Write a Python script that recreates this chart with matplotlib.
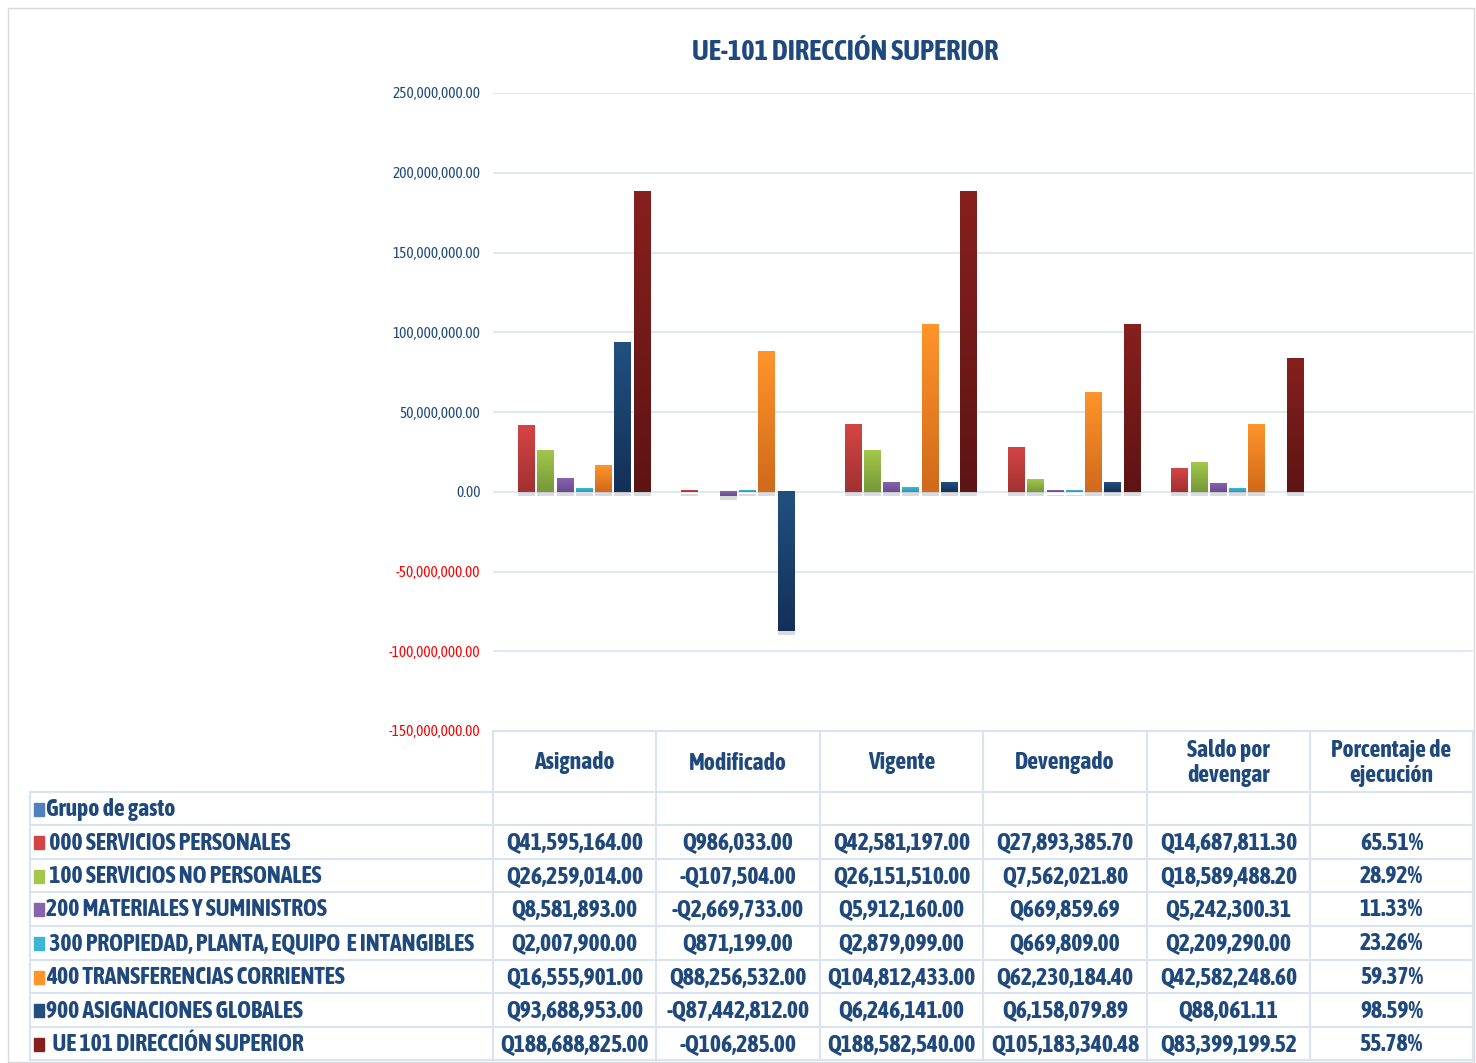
import matplotlib.pyplot as plt
import matplotlib.transforms as mtransforms
from matplotlib.colors import LinearSegmentedColormap
from matplotlib.ticker import FuncFormatter
import numpy as np

categories = ['Asignado', 'Modificado', 'Vigente', 'Devengado', 'Saldo por\ndevengar', 'Porcentaje de\nejecución']
series_names = ['Grupo de gasto', ' 000 SERVICIOS PERSONALES', ' 100 SERVICIOS NO PERSONALES',
                '200 MATERIALES Y SUMINISTROS', ' 300 PROPIEDAD, PLANTA, EQUIPO  E INTANGIBLES',
                '400 TRANSFERENCIAS CORRIENTES', '900 ASIGNACIONES GLOBALES', '  UE 101 DIRECCIÓN SUPERIOR']
grupo = [None, None, None, None, None, None]
s000 = [41595164.00, 986033.00, 42581197.00, 27893385.70, 14687811.30, 0.6551]
s100 = [26259014.00, -107504.00, 26151510.00, 7562021.80, 18589488.20, 0.2892]
s200 = [8581893.00, -2669733.00, 5912160.00, 669859.69, 5242300.31, 0.1133]
s300 = [2007900.00, 871199.00, 2879099.00, 669809.00, 2209290.00, 0.2326]
s400 = [16555901.00, 88256532.00, 104812433.00, 62230184.40, 42582248.60, 0.5937]
s900 = [93688953.00, -87442812.00, 6246141.00, 6158079.89, 88061.11, 0.9859]
sue = [188688825.00, -106285.00, 188582540.00, 105183340.48, 83399199.52, 0.5578]
all_series = [grupo, s000, s100, s200, s300, s400, s900, sue]

# light (top) / dark (bottom) colours for each series
colors = [('#4F81BD', '#3A6699'), ('#D34545', '#A33131'), ('#A3C74A', '#76983A'),
          ('#8763AE', '#6A4C8E'), ('#3CB7D3', '#2E9AB3'), ('#FF942B', '#D06A1C'),
          ('#21507F', '#143058'), ('#86201E', '#5E1413')]

navy = '#1F497D'
grid_c = '#D9E4F1'
FONT = ['Asap Condensed', 'DejaVu Sans']
TSIZE = 17

W, H = 1476, 1063
fig = plt.figure(figsize=(W / 100, H / 100), dpi=100)


def fx(px):
    return px / W


def fy(py):
    return 1 - py / H


ax = fig.add_axes([fx(493), fy(731), fx(1473) - fx(493), fy(93) - fy(731)])
ax.set_xlim(0, 6)
ax.set_ylim(-150e6, 250e6)

slot = 0.118
bw = 0.104
shadow = mtransforms.offset_copy(ax.transData, fig=fig, x=0, y=-4, units='dots')
for i, vals in enumerate(all_series):
    cmap = LinearSegmentedColormap.from_list('g%d' % i, [colors[i][0], colors[i][1]])
    for j, v in enumerate(vals[:5]):
        if v is None:
            continue
        x0 = j + 0.5 + (i - 3.5) * slot - bw / 2
        ax.bar(x0, v, width=bw, align='edge', color='#999999', alpha=0.35,
               transform=shadow, zorder=1, linewidth=0)
        if abs(v) < 300000:
            continue
        lo, hi = min(0, v), max(0, v)
        grad = np.linspace(0, 1, 50).reshape(-1, 1)
        ax.imshow(grad, extent=(x0, x0 + bw, lo, hi), origin='upper', cmap=cmap,
                  aspect='auto', zorder=3)
ax.set_xlim(0, 6)
ax.set_ylim(-150e6, 250e6)

ax.set_yticks(np.arange(-150e6, 250e6 + 1, 50e6))
ax.yaxis.set_major_formatter(FuncFormatter(lambda v, p: '{:,.2f}'.format(v)))
ax.grid(axis='y', color=grid_c, linewidth=1.2, zorder=0)
ax.set_axisbelow(True)
ax.set_xticks([])
for s in ax.spines.values():
    s.set_visible(False)
ax.tick_params(axis='y', length=0, pad=9)
for lab, v in zip(ax.get_yticklabels(), ax.get_yticks()):
    lab.set_family(FONT)
    lab.set_fontsize(11)
    lab.set_color('#FF0000' if v < 0 else navy)

fig.text(fx(845), fy(53), 'UE-101 DIRECCIÓN SUPERIOR', ha='center', va='center',
         fontsize=20.5, fontweight='bold', color=navy, family=FONT)

# data table
col_edges = [493, 656, 820, 983, 1147, 1310, 1473]
row_edges = [792, 825, 859, 892, 926, 960, 993, 1027, 1060]


def hline(y, x0, x1):
    fig.add_artist(plt.Line2D([fx(x0), fx(x1)], [fy(y), fy(y)], color=grid_c, lw=1.5))


def vline(x, y0, y1):
    fig.add_artist(plt.Line2D([fx(x), fx(x)], [fy(y0), fy(y1)], color=grid_c, lw=1.5))


hline(731, 493, 1473)
for y in row_edges:
    hline(y, 30, 1473)
for x in col_edges:
    vline(x, 731, 1060)
vline(30, 792, 1060)

for j, c in enumerate(categories):
    fig.text(fx((col_edges[j] + col_edges[j + 1]) / 2), fy(763), c, ha='center', va='center',
             fontsize=TSIZE, fontweight='bold', color=navy, family=FONT, linespacing=1.1)


def fmt(v, j):
    if j == 5:
        return '{:.2f}%'.format(v * 100)
    s = 'Q{:,.2f}'.format(abs(v))
    return '-' + s if v < 0 else s


for i, name in enumerate(series_names):
    yc = (row_edges[i] + row_edges[i + 1]) / 2
    fig.add_artist(plt.Rectangle((fx(34), fy(yc + 7)), fx(10), fy(yc - 6) - fy(yc + 7),
                                 color=colors[i][0], transform=fig.transFigure))
    fig.text(fx(46), fy(yc + 1), name, ha='left', va='center', fontsize=TSIZE,
             fontweight='bold', color=navy, family=FONT)
    for j, v in enumerate(all_series[i]):
        if v is None:
            continue
        fig.text(fx((col_edges[j] + col_edges[j + 1]) / 2), fy(yc + 1), fmt(v, j), ha='center',
                 va='center', fontsize=TSIZE, fontweight='bold', color=navy, family=FONT)

# outer chart border
fig.add_artist(plt.Rectangle((fx(8), fy(1062)), fx(1466), fy(8) - fy(1062), fill=False,
                             edgecolor='#D9D9D9', lw=1, transform=fig.transFigure))

fig.savefig('out.png', dpi=100)
